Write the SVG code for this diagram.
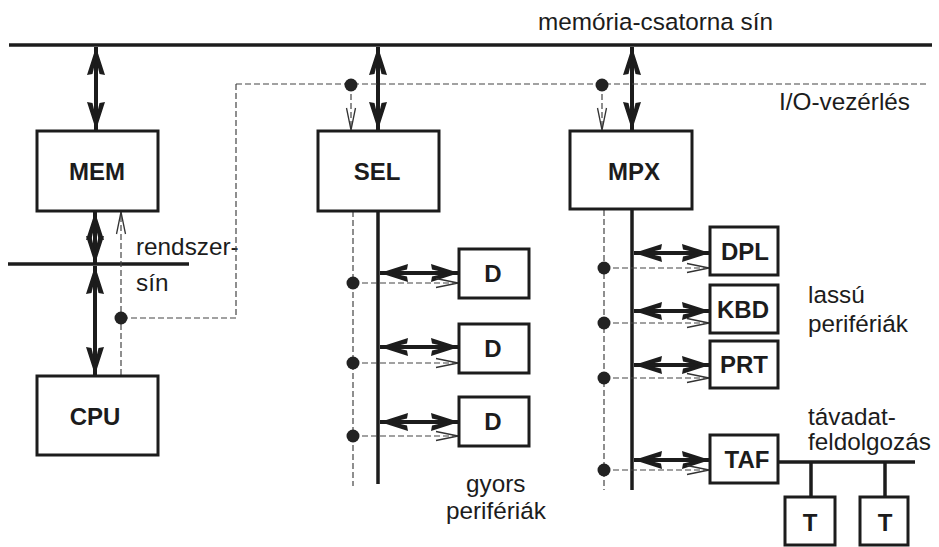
<svg xmlns="http://www.w3.org/2000/svg" width="939" height="547" viewBox="0 0 939 547">
<style>
.bx{fill:#fff;stroke:#1c1c1c;stroke-width:3}
.lb{font-family:"Liberation Sans",Arial,sans-serif;font-weight:bold;font-size:24px;fill:#1c1c1c;text-anchor:middle}
.tx{font-family:"Liberation Sans",Arial,sans-serif;font-size:24.3px;fill:#1c1c1c}
.bus{stroke:#1c1c1c;stroke-width:3.5;fill:none}
.ar{stroke:#1c1c1c;stroke-width:4;fill:none;marker-start:url(#bh);marker-end:url(#bh)}
.ds{stroke:#444;stroke-width:1.2;fill:none;stroke-dasharray:6 3}
.da{stroke:#444;stroke-width:1.2;fill:none;stroke-dasharray:6 3;marker-end:url(#oh)}
.dot{fill:#222}
</style>
<defs>
<marker id="bh" viewBox="-30 -12 32 24" refX="0" refY="0" markerWidth="32" markerHeight="24" markerUnits="userSpaceOnUse" orient="auto-start-reverse">
<path d="M0,0 L-28,-9 L-27,-3.5 L-12,0 L-27,3.5 L-28,9 Z" fill="#1c1c1c"/>
</marker>
<marker id="oh" viewBox="-24 -7 26 14" refX="0" refY="0" markerWidth="26" markerHeight="14" markerUnits="userSpaceOnUse" orient="auto">
<path d="M-22,-4.5 L0,0 L-22,4.5" fill="none" stroke="#333" stroke-width="1.3"/>
</marker>
</defs>

<g id="labels">
<text class="tx" x="538" y="30">memória-csatorna sín</text>
<text class="tx" x="779" y="110">I/O-vezérlés</text>
<text class="tx" x="136" y="255">rendszer-</text>
<text class="tx" x="136" y="291">sín</text>
<text class="tx" x="466" y="492">gyors</text>
<text class="tx" x="446" y="519">perifériák</text>
<text class="tx" x="808" y="303">lassú</text>
<text class="tx" x="808" y="332">perifériák</text>
<text class="tx" x="808" y="425">távadat-</text>
<text class="tx" x="808" y="450">feldolgozás</text>
</g>

<g id="connectors">
<!-- buses -->
<line class="bus" x1="9" y1="45" x2="932" y2="45"/>
<line class="bus" x1="8" y1="264" x2="189" y2="264"/>
<line class="bus" x1="378" y1="210" x2="378" y2="484"/>
<line class="bus" x1="632" y1="209" x2="632" y2="490"/>
<line class="bus" x1="778" y1="462" x2="915" y2="462"/>
<line class="bus" x1="811" y1="462" x2="811" y2="497"/>
<line class="bus" x1="885" y1="462" x2="885" y2="497"/>
<!-- double arrows -->
<line class="ar" x1="96" y1="47" x2="96" y2="130"/>
<line class="ar" x1="378" y1="47" x2="378" y2="130"/>
<line class="ar" x1="632" y1="47" x2="632" y2="130"/>
<line class="ar" x1="95" y1="212" x2="95" y2="264"/>
<line class="ar" x1="95" y1="266" x2="95" y2="375"/>
<line class="ar" x1="380" y1="273" x2="459" y2="273"/>
<line class="ar" x1="380" y1="347" x2="459" y2="347"/>
<line class="ar" x1="380" y1="422" x2="459" y2="422"/>
<line class="ar" x1="634" y1="253" x2="710" y2="253"/>
<line class="ar" x1="634" y1="311" x2="710" y2="311"/>
<line class="ar" x1="634" y1="365" x2="710" y2="365"/>
<line class="ar" x1="634" y1="460" x2="710" y2="460"/>
<!-- I/O control (dashed) -->
<line class="ds" x1="236" y1="84" x2="928" y2="84"/>
<polyline class="ds" points="236,84 236,318 121,318"/>
<line class="da" x1="121" y1="375" x2="121" y2="212"/>
<line class="da" x1="351" y1="85" x2="351" y2="130"/>
<line class="da" x1="602" y1="85" x2="602" y2="130"/>
<line class="ds" x1="353" y1="211" x2="353" y2="486"/>
<line class="ds" x1="604" y1="210" x2="604" y2="490"/>
<line class="da" x1="353" y1="283" x2="458" y2="283"/>
<line class="da" x1="353" y1="363" x2="458" y2="363"/>
<line class="da" x1="353" y1="436" x2="458" y2="436"/>
<line class="da" x1="604" y1="268" x2="709" y2="268"/>
<line class="da" x1="604" y1="323" x2="709" y2="323"/>
<line class="da" x1="604" y1="378" x2="709" y2="378"/>
<line class="da" x1="604" y1="470" x2="709" y2="470"/>
<circle class="dot" cx="121" cy="318" r="6.5"/>
<circle class="dot" cx="351" cy="85" r="6.5"/>
<circle class="dot" cx="602" cy="85" r="6.5"/>
<circle class="dot" cx="353" cy="283" r="6.5"/>
<circle class="dot" cx="353" cy="363" r="6.5"/>
<circle class="dot" cx="353" cy="436" r="6.5"/>
<circle class="dot" cx="604" cy="268" r="6.5"/>
<circle class="dot" cx="604" cy="323" r="6.5"/>
<circle class="dot" cx="604" cy="378" r="6.5"/>
<circle class="dot" cx="604" cy="470" r="6.5"/>
</g>

<g id="MEM"><rect class="bx" x="37" y="131" width="121" height="80"/><text class="lb" x="97" y="180">MEM</text></g>
<g id="CPU"><rect class="bx" x="37" y="376" width="121" height="79"/><text class="lb" x="95" y="425">CPU</text></g>
<g id="SEL"><rect class="bx" x="318" y="131" width="121" height="80"/><text class="lb" x="377" y="180">SEL</text></g>
<g id="MPX"><rect class="bx" x="570" y="131" width="122" height="78"/><text class="lb" x="634" y="180">MPX</text></g>
<g id="D1"><rect class="bx" x="459" y="249" width="70" height="49"/><text class="lb" x="493" y="282">D</text></g>
<g id="D2"><rect class="bx" x="459" y="324" width="70" height="49"/><text class="lb" x="493" y="357">D</text></g>
<g id="D3"><rect class="bx" x="459" y="397" width="70" height="49"/><text class="lb" x="493" y="430">D</text></g>
<g id="DPL"><rect class="bx" x="710" y="227" width="68" height="48"/><text class="lb" x="745" y="260">DPL</text></g>
<g id="KBD"><rect class="bx" x="710" y="285" width="68" height="48"/><text class="lb" x="743" y="318">KBD</text></g>
<g id="PRT"><rect class="bx" x="710" y="341" width="68" height="47"/><text class="lb" x="744" y="373">PRT</text></g>
<g id="TAF"><rect class="bx" x="710" y="435" width="68" height="48"/><text class="lb" x="747" y="468">TAF</text></g>
<g id="T1"><rect class="bx" x="785" y="497" width="50" height="48"/><text class="lb" x="810" y="531">T</text></g>
<g id="T2"><rect class="bx" x="860" y="497" width="48" height="48"/><text class="lb" x="885" y="531">T</text></g>
</svg>
